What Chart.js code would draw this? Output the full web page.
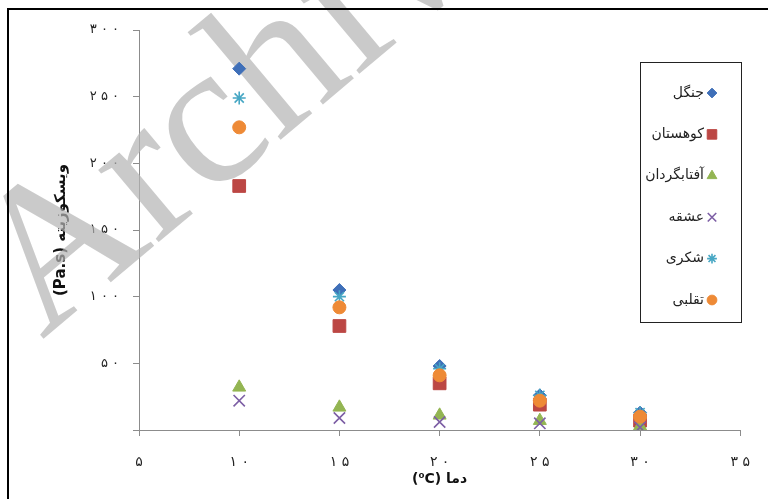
<!DOCTYPE html>
<html lang="fa">
<head>
<meta charset="UTF-8">
<title>ویسکوزیته</title>
<script src="https://cdn.jsdelivr.net/npm/chart.js"></script>
<style>
  body { margin: 0; background: #fff; }
  #wrap { width: 768px; height: 499px; position: relative; }
</style>
</head>
<body>
<div id="wrap"><canvas id="myChart" dir="rtl"></canvas></div>
<script>
// دما (°C)
const temps = [10, 15, 20, 25, 30];
const seriesNames = ['جنگل', 'کوهستان', 'آفتابگردان', 'عشقه', 'شکری', 'تقلبی'];
// ویسکوزیته (Pa.s)
const jangal      = [271, 105, 48, 26, 13];
const kuhestan    = [183, 78, 35, 19, 7];
const aftabgardan = [32, 17, 11, 7, 3];
const eshgheh     = [22, 9, 6, 5, 2];
const shekari     = [249, 100, 46, 26, 13];
const taghalobi   = [227, 92, 41, 22, 10];
const xTicks = [5, 10, 15, 20, 25, 30, 35];
const yTicks = [0, 50, 100, 150, 200, 250, 300];

const FONT = '"DejaVu Sans", sans-serif';
// ارقام فارسی با فاصله، LRM برای حفظ ترتیب در متن راست‌به‌چپ
const faDigits = n => '\u200E' + String(n).split('').map(d => '۰۱۲۳۴۵۶۷۸۹'[d]).join(' ');

const styles = [
    { color: '#3f6fb8', pointStyle: 'rectRot', radius: 6.5, borderWidth: 1 },
    { color: '#bc4744', pointStyle: 'rect', radius: 9, borderWidth: 1 },
    { color: '#93b552', pointStyle: 'triangle', radius: 7.5, borderWidth: 1 },
    { color: '#7d5fa5', pointStyle: 'crossRot', radius: 8, borderWidth: 1.6 },
    { color: '#47a7c4', pointStyle: 'star', radius: 6.5, borderWidth: 1.6 },
    { color: '#ee8a36', pointStyle: 'circle', radius: 6.5, borderWidth: 1 },
];
const allSeries = [jangal, kuhestan, aftabgardan, eshgheh, shekari, taghalobi];

const datasets = allSeries.map((vals, i) => ({
    label: seriesNames[i],
    data: vals.map((v, j) => ({ x: temps[j], y: v })),
    pointStyle: styles[i].pointStyle,
    pointRadius: styles[i].radius,
    pointHoverRadius: styles[i].radius,
    backgroundColor: styles[i].color,
    borderColor: styles[i].color,
    pointBorderWidth: styles[i].borderWidth,
    order: allSeries.length - 1 - i,   // مثل اکسل: سری بعدی روی قبلی
}));

// کادر بیرونی، راهنما و واترمارک
const decor = {
    id: 'decor',
    beforeDatasetsDraw(chart) {
        const ctx = chart.ctx;
        ctx.save();
        ctx.translate(42, 340);
        ctx.rotate(-40 * Math.PI / 180);
        ctx.font = '205px "Liberation Serif", serif';
        ctx.textAlign = 'left';
        ctx.textBaseline = 'alphabetic';
        ctx.direction = 'ltr';
        ctx.fillStyle = 'rgba(180,180,180,0.7)';
        ctx.fillText('Archive', 0, 0);
        ctx.restore();
    },
    afterDraw(chart) {
        const ctx = chart.ctx;
        ctx.save();
        ctx.strokeStyle = '#000';
        ctx.lineWidth = 2;
        ctx.strokeRect(8, 9, 800, 600);

        // legend box
        ctx.lineWidth = 1;
        ctx.strokeStyle = '#222';
        ctx.fillStyle = '#fff';
        ctx.fillRect(640.5, 62.5, 101, 260);
        ctx.strokeRect(640.5, 62.5, 101, 260);
        ctx.font = '14px ' + FONT;
        ctx.textAlign = 'right';
        ctx.textBaseline = 'middle';
        seriesNames.forEach((name, i) => {
            const y = 93 + i * 41.4;
            const st = styles[i];
            ctx.fillStyle = st.color;
            ctx.strokeStyle = st.color;
            ctx.lineWidth = st.borderWidth;
            Chart.helpers.drawPoint(ctx, {
                pointStyle: st.pointStyle, radius: st.radius * 0.75,
                rotation: 0, borderWidth: st.borderWidth
            }, 712, y);
            ctx.fillStyle = '#222';
            ctx.fillText(name, 704, y);
        });
        ctx.restore();
    }
};

const ctx = document.getElementById('myChart').getContext('2d');
new Chart(ctx, {
    type: 'scatter',
    data: { datasets: datasets },
    options: {
        responsive: true,
        maintainAspectRatio: false,
        animation: false,
        layout: { padding: { top: 30, right: 27, left: 0, bottom: 0 } },
        plugins: {
            legend: { display: false },
            tooltip: { enabled: false },
        },
        scales: {
            x: {
                type: 'linear',
                min: 5, max: 35,
                afterFit: s => { s.height = 69; },
                afterBuildTicks: s => { s.ticks = xTicks.map(v => ({ value: v })); },
                grid: { drawOnChartArea: false, color: '#8c8c8c', tickLength: 6, tickColor: '#8c8c8c' },
                border: { color: '#8c8c8c', width: 1 },
                ticks: {
                    color: '#222', padding: 18,
                    font: { family: FONT, size: 14 },
                    callback: v => faDigits(v),
                    maxRotation: 0,
                },
                title: {
                    display: true, text: 'دما (⁰C)', color: '#111',
                    font: { family: FONT, size: 14, weight: 'bold' },
                    padding: { top: 0, bottom: 11 },
                },
            },
            y: {
                min: 0, max: 300,
                afterFit: s => { s.width = 139; },
                afterBuildTicks: s => { s.ticks = yTicks.map(v => ({ value: v })); },
                grid: { drawOnChartArea: false, color: '#8c8c8c', tickLength: 6, tickColor: '#8c8c8c' },
                border: { color: '#8c8c8c', width: 1 },
                ticks: {
                    color: '#222', padding: 14,
                    font: { family: FONT, size: 13 },
                    callback: v => v === 0 ? '' : faDigits(v),
                },
                title: {
                    display: true, text: 'ویسکوزیته (Pa.s)', color: '#111',
                    font: { family: FONT, size: 15, weight: 'bold' },
                    padding: { top: 52, bottom: 0 },
                },
            },
        },
    },
    plugins: [decor],
});
</script>
</body>
</html>
